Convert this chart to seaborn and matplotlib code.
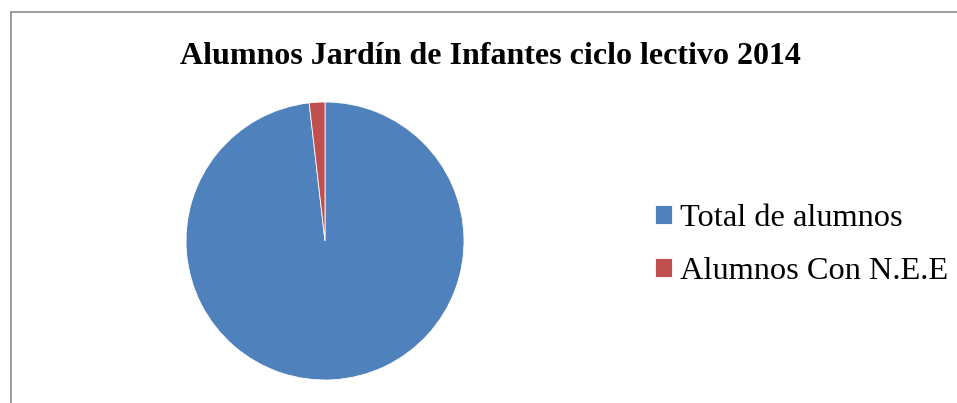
import matplotlib
matplotlib.use("Agg")
import matplotlib.pyplot as plt
from matplotlib.lines import Line2D
import seaborn as sns

# Pie data
labels = ["Total de alumnos", "Alumnos Con N.E.E"]
values = [270, 5]
colors = ["#4F81BD", "#C0504D"]
title = "Alumnos Jardín de Infantes ciclo lectivo 2014"

sns.set_theme(style="white")
plt.rcParams["font.family"] = ["Liberation Serif", "DejaVu Serif"]
plt.rcParams["text.color"] = "black"

W, H = 957, 403
fig = plt.figure(figsize=(W / 100, H / 100), dpi=100)
fig.patch.set_facecolor("white")

# pie axes: center ~ (325, 241) px, radius ~139 px
cx, cy, r = 325, 241, 139
ax = fig.add_axes([(cx - r) / W, (H - cy - r) / H, 2 * r / W, 2 * r / H])
wedges, _ = ax.pie(values, colors=colors, startangle=90, counterclock=False,
                   radius=1.0, wedgeprops=dict(linewidth=0.6, edgecolor="white"))
ax.set_xlim(-1, 1)
ax.set_ylim(-1, 1)
ax.set_aspect("equal")
ax.axis("off")

fig.text(490 / W, 1 - 56 / H, title, ha="center", va="center",
         fontsize=23, fontweight="bold", color="black")

leg = fig.legend(wedges, labels, loc="center left",
                 bbox_to_anchor=(655 / W, 1 - 245 / H), frameon=False,
                 fontsize=23.3, handlelength=0.52, handleheight=0.52,
                 handletextpad=0.25, labelspacing=0.72, borderpad=0,
                 borderaxespad=0)
for t in leg.get_texts():
    t.set_color("black")

# chart frame (left and top edges visible)
fig.add_artist(Line2D([10.5 / W, 10.5 / W], [0, 1 - 12 / H],
                      transform=fig.transFigure, color="#8c8c8c", linewidth=1.2))
fig.add_artist(Line2D([10.5 / W, 1], [1 - 12 / H, 1 - 12 / H],
                      transform=fig.transFigure, color="#8c8c8c", linewidth=1.2))

fig.savefig("out.png", dpi=100, facecolor="white")
